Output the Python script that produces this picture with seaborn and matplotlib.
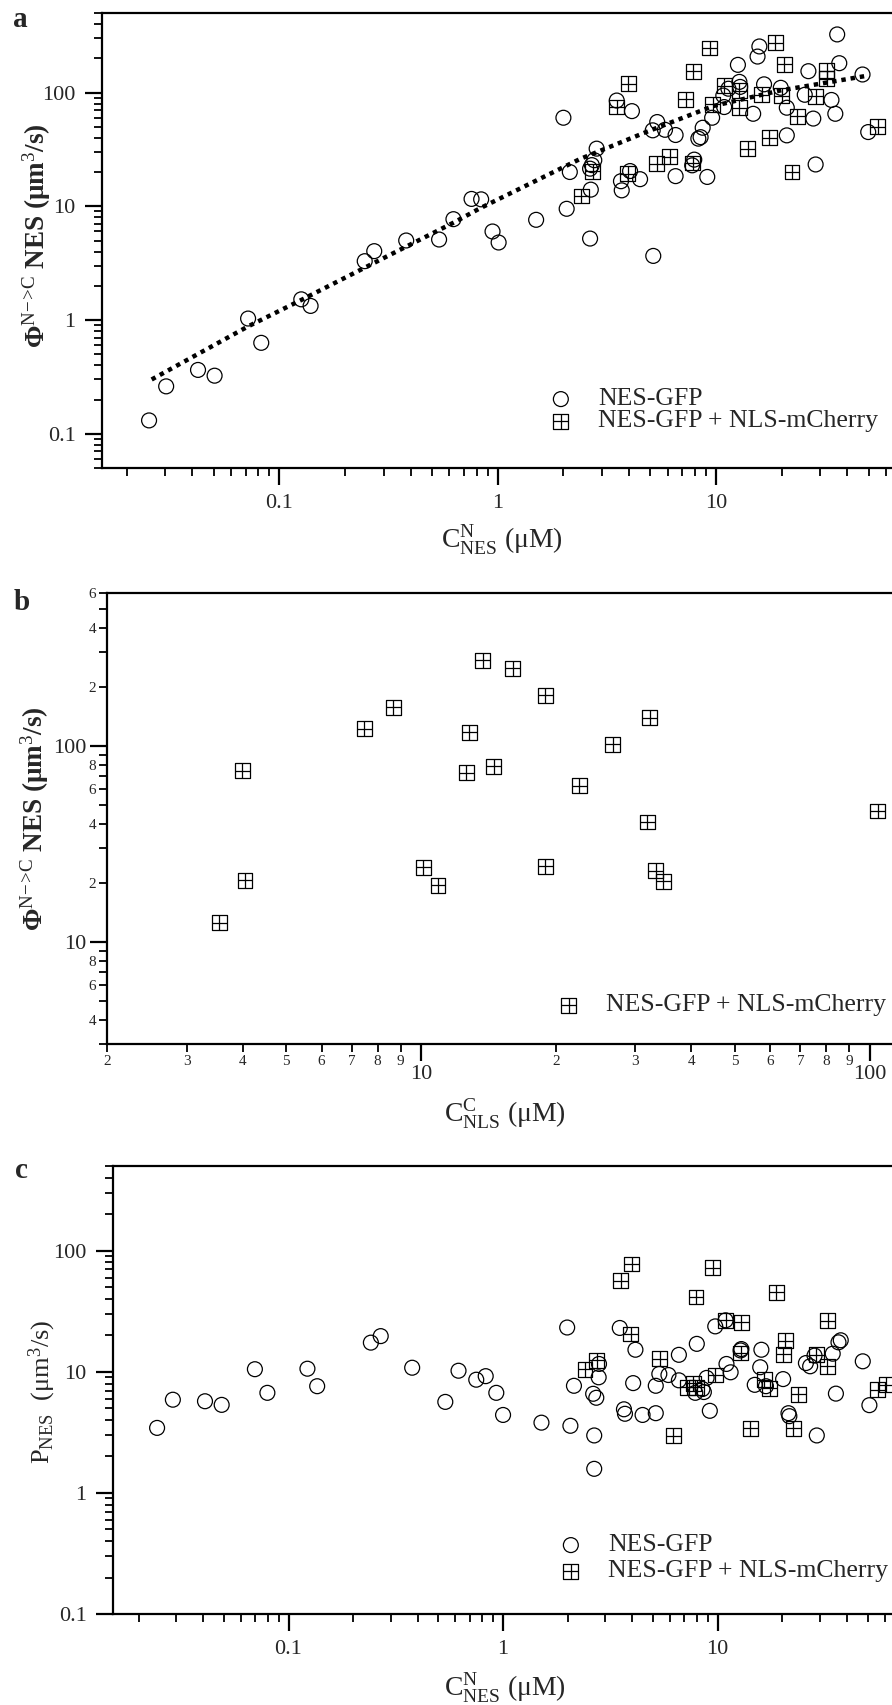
import numpy as np
import matplotlib
matplotlib.use('Agg')
import matplotlib.pyplot as plt
import seaborn as sns
from matplotlib.path import Path
from matplotlib.ticker import LogLocator, FuncFormatter, NullFormatter

# ---- panel a: flux vs nuclear NES concentration ----
a_gfp_x = [0.0253, 0.0303, 0.0424, 0.0505, 0.0719, 0.0826, 0.126, 0.139, 0.246, 0.272,
           0.381, 0.539, 0.627, 0.759, 0.840, 0.947, 1.01, 1.50,
           2.0, 2.07, 2.14, 2.65, 2.67, 2.65, 2.77, 2.84, 2.7, 3.51, 4.12, 3.67, 3.70,
           4.04, 4.49, 5.38, 5.13, 5.84, 6.53, 6.53, 5.16, 8.69, 8.3, 8.5, 7.95, 7.78,
           9.12, 9.6, 10.8, 11.4, 10.9, 12.6, 12.8, 12.9, 14.8, 15.8, 15.5, 16.6, 19.8,
           21.1, 21.1, 25.5, 26.5, 27.9, 28.6, 33.8, 35.2, 35.9, 36.7, 46.9, 49.8]
a_gfp_y = [0.131, 0.261, 0.364, 0.324, 1.03, 0.63, 1.52, 1.33, 3.29, 4.03,
           5.0, 5.1, 7.7, 11.6, 11.5, 6.0, 4.8, 7.6,
           60, 9.5, 20.0, 5.2, 14.0, 21.4, 25.4, 32.1, 23.0, 85, 68.6, 16.6, 13.8,
           20.4, 17.3, 55, 46.5, 47, 42.3, 18.4, 3.66, 49, 39.3, 40.5, 25.7, 22.9,
           18.1, 60, 94, 108, 74.5, 175, 124, 112, 65, 254, 207, 118, 110,
           73.5, 42, 95.5, 154, 59, 23.3, 86, 65, 324, 181, 144, 44.9]
a_mch_x = [2.42, 2.72, 3.51, 3.97, 3.94, 5.35, 6.15, 7.28, 7.81, 7.87, 9.38, 9.65, 10.9,
           12.8, 12.8, 14.0, 16.2, 17.5, 18.7, 20.5, 20.0, 22.3, 23.6, 28.6, 32.1, 32.1, 55]
a_mch_y = [12.3, 20.3, 74.5, 119, 19.4, 23.7, 27.2, 87, 24.0, 154, 246, 78.7, 115,
           104, 73.5, 32, 95.5, 40, 274, 177, 94, 20.0, 61.7, 92.9, 156, 132, 50]
fit_x = [0.026, 0.072, 0.126, 0.3, 0.63, 0.83, 2.38, 4.8, 9.7, 19.6, 49.8]
fit_y = [0.30, 0.88, 1.5, 3.5, 7.2, 9.6, 26, 45, 76, 104, 141]

# ---- panel b: flux vs cytoplasmic NLS concentration ----
b_x = [3.55, 3.99, 4.05, 7.47, 8.67, 10.1, 10.9, 12.6, 12.8, 13.7, 14.5,
       16.0, 18.9, 18.9, 22.5, 26.7, 31.9, 32.3, 33.3, 34.6, 104]
b_y = [12.5, 74.6, 20.6, 121.8, 157, 23.9, 19.4, 72.7, 116.8, 273, 78.7,
       248, 181, 24.2, 62.5, 101.7, 40.8, 139, 23.0, 20.3, 46.4]

# ---- panel c: permeability vs nuclear NES concentration ----
c_gfp_x = [0.0244, 0.0289, 0.0408, 0.0488, 0.0697, 0.0797, 0.1225, 0.136, 0.242, 0.269,
           0.377, 0.538, 0.62, 0.75, 0.83, 0.93, 1.0, 1.51,
           1.99, 2.14, 2.06, 2.66, 2.66, 2.63, 2.72, 2.79, 2.8, 3.5, 3.66, 3.7, 4.04,
           4.14, 4.47, 5.15, 5.15, 5.35, 5.9, 6.6, 6.6, 8.0, 7.87, 8.5, 8.63, 8.89,
           9.2, 9.75, 10.9, 11.0, 11.5, 12.9, 12.8, 16.0, 15.8, 14.9, 16.8, 20.2,
           21.4, 21.6, 25.8, 27.0, 28.3, 29.0, 34.4, 35.6, 36.6, 37.5, 47.5, 51]
c_gfp_y = [3.44, 5.88, 5.71, 5.33, 10.5, 6.7, 10.6, 7.6, 17.4, 19.7,
           10.8, 5.64, 10.2, 8.6, 9.2, 6.7, 4.4, 3.8,
           23.2, 7.66, 3.58, 2.98, 1.58, 6.58, 6.1, 9.0, 11.6, 23.0, 4.9, 4.5, 8.06,
           15.2, 4.4, 4.55, 7.66, 9.6, 9.4, 8.5, 13.8, 17.0, 6.7, 7.2, 6.8, 8.9,
           4.76, 23.7, 26.6, 11.6, 9.9, 15.4, 15.0, 15.2, 10.9, 7.8, 7.6, 8.7,
           4.55, 4.3, 11.8, 11.1, 13.6, 2.98, 14.1, 6.6, 17.5, 18.2, 12.2, 5.3]
c_mch_x = [2.41, 2.73, 3.54, 3.97, 3.93, 5.38, 6.21, 7.93, 7.22, 7.7, 7.98, 9.48, 9.75,
           10.9, 12.9, 12.8, 14.2, 16.5, 17.5, 18.8, 20.7, 20.2, 23.8, 22.5, 32.6, 28.8,
           32.5, 55.8, 61]
c_mch_y = [10.5, 12.4, 56.5, 77.6, 20.5, 12.8, 2.96, 41.4, 7.47, 8.05, 7.47, 72, 9.4,
           26.6, 25.6, 14.3, 3.42, 8.6, 7.3, 45.3, 18.0, 14.0, 6.5, 3.42, 26.4, 13.8,
           11.1, 7.1, 7.8]

W, H = 892, 1705

sns.set_style('ticks')
plt.rcParams['font.family'] = ['Liberation Serif', 'DejaVu Serif']
plt.rcParams['mathtext.fontset'] = 'custom'
plt.rcParams['mathtext.rm'] = 'Liberation Serif'
plt.rcParams['mathtext.it'] = 'Liberation Serif:italic'
plt.rcParams['mathtext.bf'] = 'Liberation Serif:bold'

# open square with a cross inside
box_cross = Path([(-1, -1), (1, -1), (1, 1), (-1, 1), (-1, -1), (-1, 0), (1, 0), (0, -1), (0, 1)],
                 [Path.MOVETO, Path.LINETO, Path.LINETO, Path.LINETO, Path.CLOSEPOLY,
                  Path.MOVETO, Path.LINETO, Path.MOVETO, Path.LINETO])

fig = plt.figure(figsize=(W / 100, H / 100), dpi=100)


def place(left, top, right, bottom):
    return fig.add_axes([left / W, 1 - bottom / H, (right - left) / W, (bottom - top) / H])


def fig_text(x, y, s, **kw):
    fig.text(x / W, 1 - y / H, s, **kw)


def scatter(ax, x, y, marker, label):
    sns.scatterplot(x=x, y=y, ax=ax, marker=marker, s=115, facecolor='none',
                    edgecolor='black', linewidth=0.9, label=label)


def frame(ax):
    for side in ['left', 'bottom', 'top']:
        ax.spines[side].set_linewidth(1.6)
        ax.spines[side].set_color('black')
    ax.spines['right'].set_visible(False)
    ax.set_xlabel('')
    ax.set_ylabel('')


def decade_ticks(ax):
    for axis in [ax.xaxis, ax.yaxis]:
        axis.set_major_locator(LogLocator(10, numticks=30))
        axis.set_minor_locator(LogLocator(10, subs=np.arange(2, 10), numticks=30))
        axis.set_major_formatter(FuncFormatter(lambda v, p: f'{v:g}'))
        axis.set_minor_formatter(NullFormatter())
    ax.tick_params(which='major', direction='out', length=12, width=1.6, labelsize=16,
                   pad=7, color='black')
    ax.tick_params(which='minor', direction='out', length=6, width=1.3, color='black')


def legend(ax, x, y, spacing):
    handles = ax.collections
    ax.legend(handles=handles, labels=[h.get_label() for h in handles],
              loc='upper left', bbox_to_anchor=(x / W, 1 - y / H),
              bbox_transform=fig.transFigure, frameon=False, fontsize=18.5,
              handlelength=1.0, handleheight=0.6, handletextpad=0.95,
              labelspacing=spacing, borderpad=0, borderaxespad=0)


# ---- a ----
ax = place(102, 13, 892, 468)
ax.set_xscale('log')
ax.set_yscale('log')
scatter(ax, a_gfp_x, a_gfp_y, 'o', 'NES-GFP')
scatter(ax, a_mch_x, a_mch_y, box_cross, 'NES-GFP + NLS-mCherry')
sns.lineplot(x=fit_x, y=fit_y, ax=ax, color='black', linewidth=3.2,
             linestyle=(0, (1, 1.1)), estimator=None, legend=False)
ax.set_xlim(0.0154, 64)
ax.set_ylim(0.05, 500)
frame(ax)
decade_ticks(ax)
legend(ax, 548, 388, 0.0)
fig_text(20, 27, 'a', fontsize=21, fontweight='bold', ha='center', va='baseline')
fig_text(37, 236, 'Φ$^{\\mathrm{N\\!-\\!\\!>\\!C}}$ NES (μm$^{3}$/s)', fontsize=19.5,
         fontweight='bold', rotation=90, ha='center', va='center')
fig_text(502, 540, 'C$^{\\mathrm{N}}_{\\mathrm{NES}}$ (μM)', fontsize=20,
         ha='center', va='center')

# ---- b ----
ax = place(107, 593, 892, 1044)
ax.set_xscale('log')
ax.set_yscale('log')
scatter(ax, b_x, b_y, box_cross, 'NES-GFP + NLS-mCherry')
ax.set_xlim(1.995, 112)
ax.set_ylim(3, 602)
frame(ax)
for axis in [ax.xaxis, ax.yaxis]:
    axis.set_major_locator(LogLocator(10, numticks=30))
    axis.set_minor_locator(LogLocator(10, subs=np.arange(2, 10), numticks=30))
    axis.set_major_formatter(FuncFormatter(lambda v, p: f'{v:g}'))


def lead_digit(v):
    return int(round(v / 10 ** np.floor(np.log10(v) + 1e-9)))


ax.xaxis.set_minor_formatter(FuncFormatter(lambda v, p: f'{lead_digit(v)}'))
ax.yaxis.set_minor_formatter(FuncFormatter(
    lambda v, p: f'{lead_digit(v)}' if lead_digit(v) % 2 == 0 else ''))
ax.tick_params(which='major', direction='out', length=12, width=1.6, labelsize=16,
               pad=3, color='black')
ax.tick_params(which='minor', direction='out', length=6, width=1.3, labelsize=11,
               pad=2, color='black')
legend(ax, 556, 994, 0.0)
fig_text(22, 610, 'b', fontsize=21, fontweight='bold', ha='center', va='baseline')
fig_text(35, 819, 'Φ$^{\\mathrm{N\\!-\\!\\!>\\!C}}$ NES (μm$^{3}$/s)', fontsize=19.5,
         fontweight='bold', rotation=90, ha='center', va='center')
fig_text(505, 1114, 'C$^{\\mathrm{C}}_{\\mathrm{NLS}}$ (μM)', fontsize=20,
         ha='center', va='center')

# ---- c ----
ax = place(113, 1166, 892, 1614)
ax.set_xscale('log')
ax.set_yscale('log')
scatter(ax, c_gfp_x, c_gfp_y, 'o', 'NES-GFP')
scatter(ax, c_mch_x, c_mch_y, box_cross, 'NES-GFP + NLS-mCherry')
ax.set_xlim(0.0152, 65)
ax.set_ylim(0.1, 500)
frame(ax)
decade_ticks(ax)
legend(ax, 558, 1534, 0.15)
fig_text(21, 1178, 'c', fontsize=21, fontweight='bold', ha='center', va='baseline')
fig_text(42, 1392, 'P$_{\\mathrm{NES}}$  (μm$^{3}$/s)', fontsize=19,
         rotation=90, ha='center', va='center')
fig_text(505, 1688, 'C$^{\\mathrm{N}}_{\\mathrm{NES}}$ (μM)', fontsize=20,
         ha='center', va='center')

fig.savefig('out.png', dpi=100)
